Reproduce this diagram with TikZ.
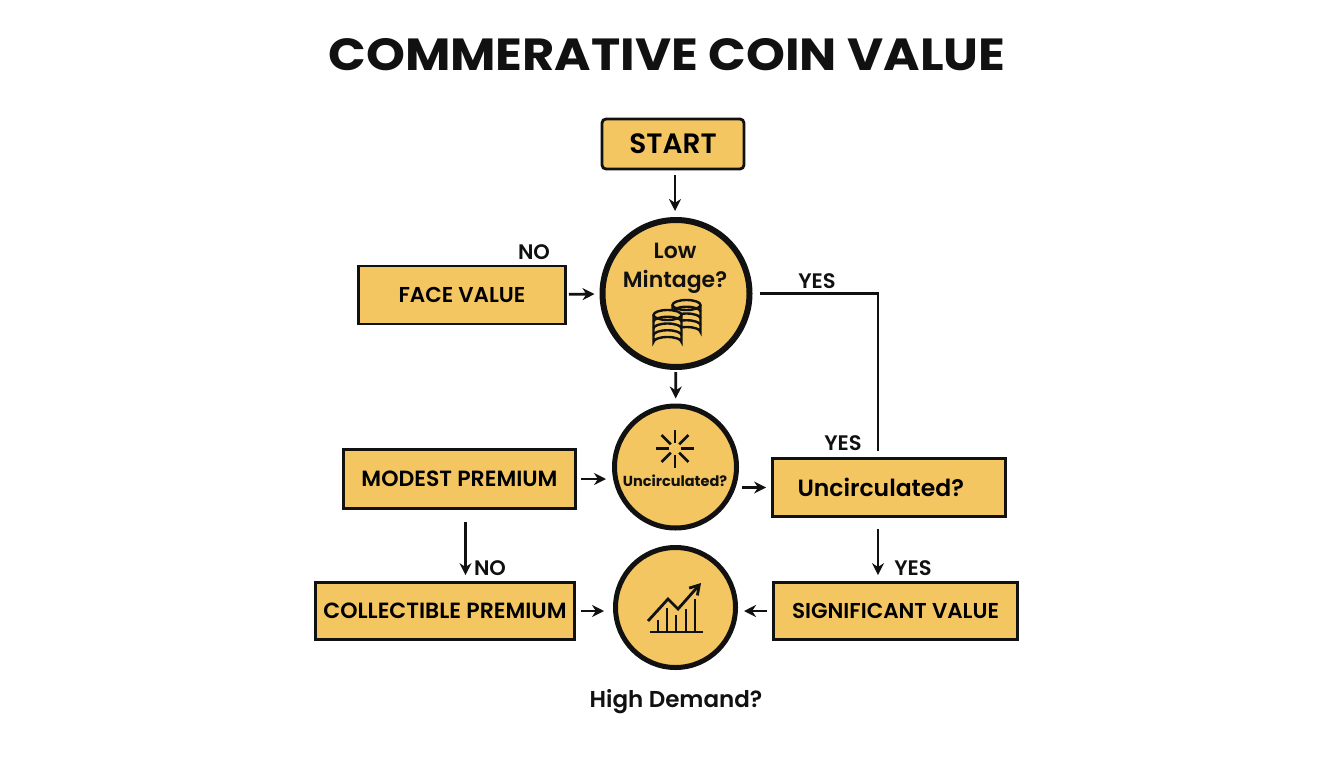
\documentclass[tikz,border=0pt]{standalone}
\usepackage{fontspec}
\setmainfont{Poppins}[BoldFont={Poppins SemiBold}]
\newfontfamily\titlefont[FakeStretch=1.1]{Poppins Bold}
\newfontfamily\heavyfont{Poppins Bold}
\usetikzlibrary{arrows.meta}
\definecolor{coingold}{HTML}{F3C662}
\definecolor{inkblack}{HTML}{111111}
\tikzset{
  flowbox/.style={draw=inkblack, fill=coingold, line width=2.8pt, inner sep=0pt},
  flowcircle/.style={draw=inkblack, fill=coingold, circle, inner sep=0pt},
  flowarrow/.style={draw=inkblack, line width=2.8pt, -{Stealth[length=12pt, width=12pt]}},
  flowlabel/.style={text=inkblack, font=\fontsize{21}{24}\selectfont\bfseries},
  iconline/.style={draw=inkblack, line width=2.4pt}
}
\begin{document}
\begin{tikzpicture}[x=1pt, y=-1pt]
  \useasboundingbox[fill=white] (0, 0) rectangle (1344, 768);
  \node[text=inkblack, font=\fontsize{45}{50}\titlefont] (title) at (667, 54.5) {COMMERATIVE COIN VALUE};
  % boxes
  \node[flowbox, rounded corners=4pt, minimum width=142pt, minimum height=50pt, font=\fontsize{28}{30}\selectfont\bfseries] (start) at (673, 144) {START};
  \node[flowbox, minimum width=207pt, minimum height=58pt, font=\fontsize{21.5}{24}\selectfont\bfseries] (facevalue) at (462, 295) {FACE VALUE};
  \node[flowbox, minimum width=232pt, minimum height=59pt, font=\fontsize{22}{24}\selectfont\bfseries] (modest) at (459.5, 479) {MODEST PREMIUM};
  \node[flowbox, minimum width=233pt, minimum height=58pt, font=\fontsize{23.5}{28}\selectfont\bfseries, text width=183pt, align=left] (uncbox) at (889, 487.5) {Uncirculated?};
  \node[flowbox, minimum width=259pt, minimum height=57pt, font=\fontsize{22}{24}\selectfont\bfseries] (collectible) at (445, 611) {COLLECTIBLE PREMIUM};
  \node[flowbox, minimum width=244pt, minimum height=57pt, font=\fontsize{21.5}{24}\selectfont\bfseries] (significant) at (895.5, 611) {SIGNIFICANT VALUE};
  % circles
  \node[flowcircle, line width=6pt, minimum size=147pt] (mintage) at (676, 293.5) {};
  \node[flowcircle, line width=5pt, minimum size=122pt] (uncirc) at (675.5, 467) {};
  \node[flowcircle, line width=5pt, minimum size=120pt] (demand) at (675.5, 607.5) {};
  \node[text=inkblack, font=\fontsize{22}{25}\selectfont\bfseries] (lowtxt) at (675, 251) {Low};
  \node[text=inkblack, font=\fontsize{22}{25}\selectfont\bfseries] (minttxt) at (675, 282) {Mintage?};
  \node[text=inkblack, font=\fontsize{14.5}{16}\heavyfont] (unctxt) at (675, 481) {Uncirculated?};
  \node[text=inkblack, font=\fontsize{23}{26}\selectfont\bfseries] (demandtxt) at (676, 702) {High Demand?};
  % connectors
  \draw[flowarrow, shorten <=5pt, shorten >=6pt] ([xshift=2pt]start.south) -- ([xshift=2pt]start.south |- mintage.north);
  \draw[flowarrow, shorten <=2pt, shorten >=5pt] (facevalue) -- (mintage);
  \draw[flowarrow, shorten <=2pt, shorten >=5pt] (mintage) -- (uncirc);
  \draw[flowarrow, shorten <=4pt, shorten >=6pt] (modest.east) -- (modest.east -| uncirc.west);
  \draw[flowarrow, shorten <=3pt, shorten >=5pt] (uncbox.west -| uncirc.east) -- (uncbox.west);
  \draw[flowarrow, shorten <=12pt, shorten >=6pt] ([xshift=6pt]modest.south) -- ([xshift=6pt]modest.south |- collectible.north);
  \draw[flowarrow, shorten <=11pt, shorten >=6pt] ([xshift=-11pt]uncbox.south) -- ([xshift=-11pt]uncbox.south |- significant.north);
  \draw[flowarrow, shorten <=5pt, shorten >=9pt] (collectible.east) -- (collectible.east -| demand.west);
  \draw[flowarrow, shorten <=5pt, shorten >=6pt] (significant.west) -- (significant.west -| demand.east);
  \draw[draw=inkblack, line width=2.8pt, shorten <=7pt, shorten >=6pt] (mintage.east) -| ([xshift=-11pt]uncbox.north);
  % labels
  \node[flowlabel] (nofa) at (534, 252) {NO};
  \node[flowlabel] (yeslow) at (817, 281) {YES};
  \node[flowlabel] (yesunc) at (843, 443) {YES};
  \node[flowlabel] (nomod) at (490, 568) {NO};
  \node[flowlabel] (yessig) at (913, 568) {YES};
  % coins
  \foreach \cx/\cy in {686.5/305, 667.5/315} {
    \fill[coingold] (\cx-14, \cy) -- (\cx-14, \cy+27) arc (180:360:14 and 5) -- (\cx+14, \cy) -- cycle;
    \draw[iconline, fill=coingold] (\cx, \cy) ellipse (14 and 5);
    \draw[iconline] (\cx-14, \cy) -- (\cx-14, \cy+27) arc (180:360:14 and 5) -- (\cx+14, \cy);
    \foreach \i in {1,...,3} {
      \draw[iconline] (\cx-14, \cy+\i*6.75) arc (180:360:14 and 5);
    }
  }
  % sparkle
  \foreach \a in {0,45,...,315} {
    \draw[iconline, line width=2.8pt] (675, 448.5) ++(\a:6) -- ++(\a:13);
  }
  % chart
  \draw[iconline, line width=2.8pt] (650, 632) -- (703, 632);
  \foreach \bx/\by in {658/620, 667/608, 676/615, 686/609, 695/599} {
    \draw[iconline, line width=2.8pt] (\bx, 632) -- (\bx, \by);
  }
  \draw[iconline, line width=2.8pt, -{Straight Barb[length=9pt, width=11pt]}] (648, 621) -- (668, 599) -- (678, 609) -- (701, 583);
\end{tikzpicture}
\end{document}
